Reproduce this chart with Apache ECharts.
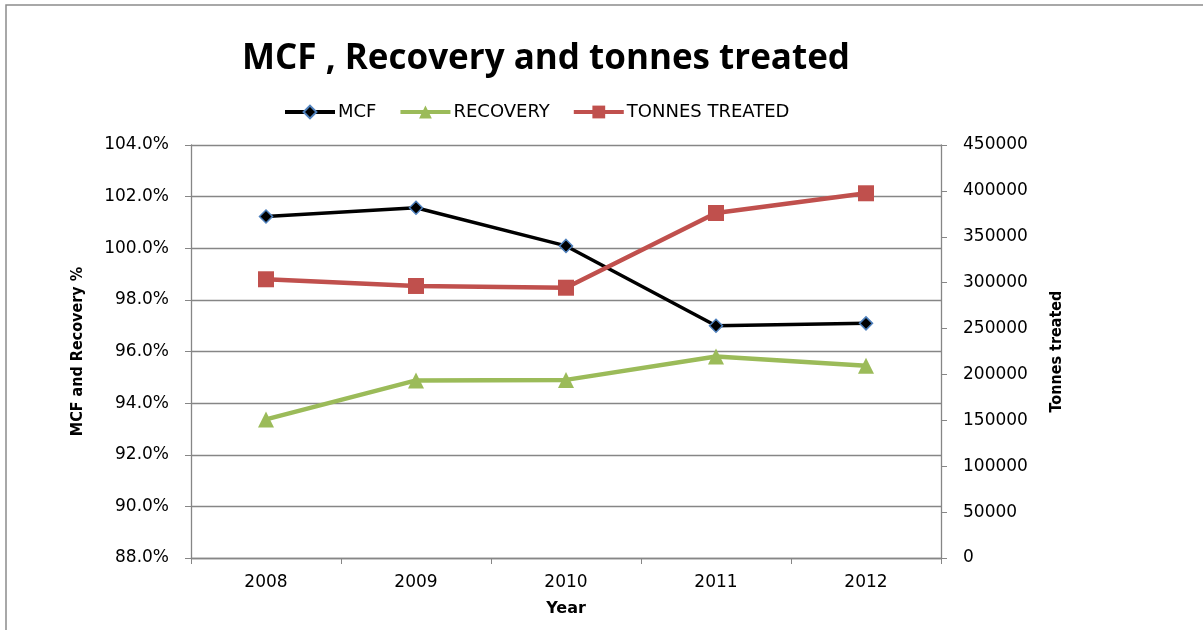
<!DOCTYPE html>
<html>
<head>
<meta charset="utf-8">
<script src="https://cdn.jsdelivr.net/npm/echarts@6/dist/echarts.min.js"></script>
<style>
html,body{margin:0;padding:0;background:#fff;}
#chart{width:1203px;height:630px;}
</style>
</head>
<body>
<div id="chart"></div>
<script>
const years = ['2008', '2009', '2010', '2011', '2012'];
const mcf = [101.23, 101.57, 100.09, 97.00, 97.09];
const recovery = [93.37, 94.88, 94.90, 95.81, 95.45];
const tonnes = [303700, 296400, 294500, 375900, 397400];
const leftAxisRange = [88, 104, 2];
const rightAxisRange = [0, 450000, 50000];

const chart = echarts.init(document.getElementById('chart'));
const axisGray = '#868686';
const labelFont = 'DejaVu Sans';
chart.setOption({
  backgroundColor: '#ffffff',
  animation: false,
  graphic: [{
    type: 'rect', shape: {x: 6, y: 5, width: 1400, height: 800},
    style: {fill: 'none', stroke: '#8c8c8c', lineWidth: 1.5}, silent: true
  }],
  title: {
    text: 'MCF , Recovery and tonnes treated',
    left: 541, top: 37, textAlign: 'center',
    textStyle: {fontFamily: 'Open Sans', fontWeight: 'bold', fontSize: 35, color: '#000'}
  },
  legend: {
    left: 278, top: 98,
    itemWidth: 50, itemHeight: 16, itemGap: 22,
    lineStyle: {width: 4},
    textStyle: {fontFamily: labelFont, fontSize: 18, color: '#000', padding: [0, 0, 0, -2]},
    data: ['MCF', 'RECOVERY', 'TONNES TREATED']
  },
  grid: {left: 191, right: 262, top: 145, bottom: 72, containLabel: false},
  xAxis: {
    type: 'category', data: years, boundaryGap: true,
    name: 'Year', nameLocation: 'middle', nameGap: 43,
    nameTextStyle: {fontFamily: labelFont, fontWeight: 'bold', fontSize: 16, color: '#000'},
    axisLine: {lineStyle: {color: axisGray, width: 1.3}},
    axisTick: {show: true, length: 6, inside: false, lineStyle: {color: axisGray}},
    axisLabel: {fontFamily: labelFont, fontSize: 17, color: '#000', margin: 16}
  },
  yAxis: [{
    type: 'value', min: leftAxisRange[0], max: leftAxisRange[1], interval: leftAxisRange[2],
    name: 'MCF and Recovery %', nameLocation: 'middle', nameGap: 105,
    nameTextStyle: {fontFamily: 'DejaVu Sans Condensed', fontWeight: 'bold', fontSize: 16, color: '#000'},
    axisLine: {show: true, lineStyle: {color: axisGray, width: 1.3}},
    axisTick: {show: true, length: 6, lineStyle: {color: axisGray}},
    splitLine: {show: true, lineStyle: {color: axisGray, width: 1.3}},
    axisLabel: {fontFamily: labelFont, fontSize: 17, color: '#000', margin: 22,
      formatter: v => v.toFixed(1) + '%'}
  }, {
    type: 'value', min: rightAxisRange[0], max: rightAxisRange[1], interval: rightAxisRange[2],
    name: 'Tonnes treated', nameLocation: 'middle', nameGap: 108, nameRotate: 90,
    nameTextStyle: {fontFamily: 'DejaVu Sans Condensed', fontWeight: 'bold', fontSize: 16, color: '#000'},
    axisLine: {show: true, lineStyle: {color: axisGray, width: 1.3}},
    axisTick: {show: true, length: 6, lineStyle: {color: axisGray}},
    splitLine: {show: false},
    axisLabel: {fontFamily: labelFont, fontSize: 17, color: '#000', margin: 22,
      formatter: v => String(v)}
  }],
  series: [{
    name: 'MCF', type: 'line', yAxisIndex: 0, data: mcf,
    symbol: 'diamond', symbolSize: 13,
    lineStyle: {color: '#000000', width: 3.5},
    itemStyle: {color: '#000000', borderColor: '#4F81BD', borderWidth: 1.5}
  }, {
    name: 'RECOVERY', type: 'line', yAxisIndex: 0, data: recovery,
    symbol: 'triangle', symbolSize: 16,
    lineStyle: {color: '#9BBB59', width: 4.5},
    itemStyle: {color: '#9BBB59', borderColor: '#9BBB59', borderWidth: 0}
  }, {
    name: 'TONNES TREATED', type: 'line', yAxisIndex: 1, data: tonnes,
    symbol: 'rect', symbolSize: 16,
    lineStyle: {color: '#C0504D', width: 4.5},
    itemStyle: {color: '#C0504D', borderColor: '#C0504D', borderWidth: 0}
  }]
});
</script>
</body>
</html>
